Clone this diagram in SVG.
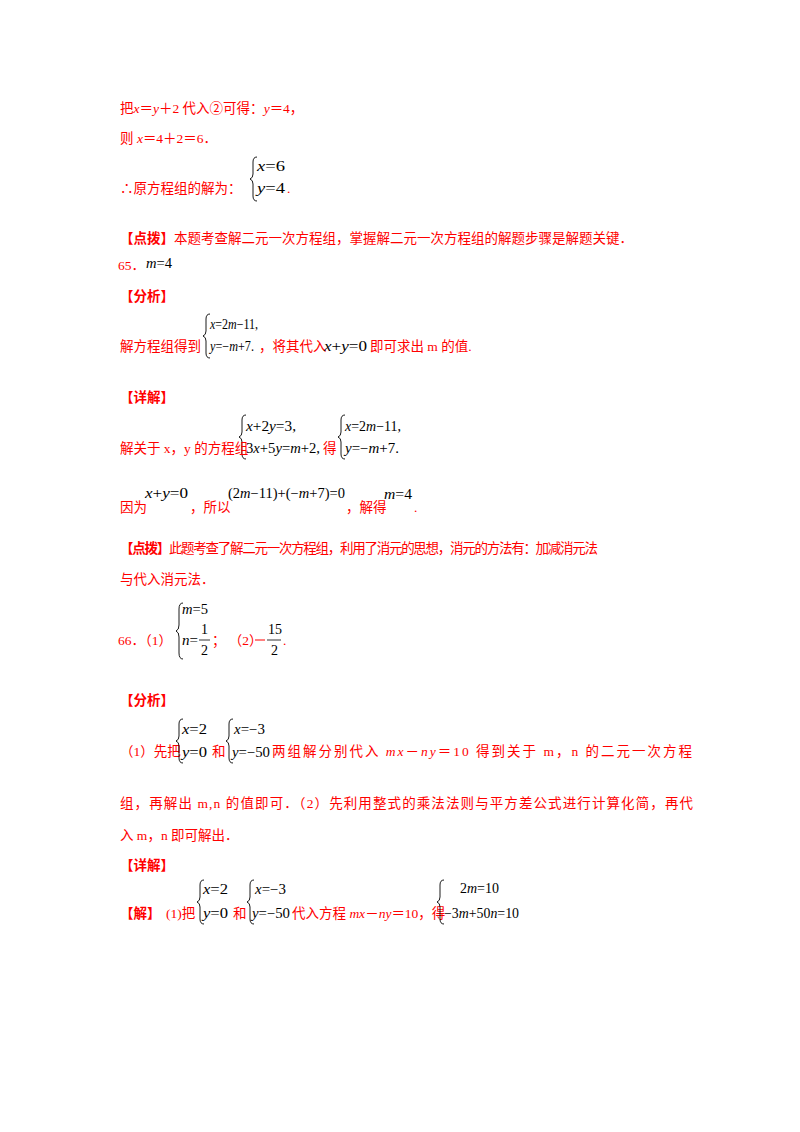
<svg xmlns="http://www.w3.org/2000/svg" width="800" height="1132" viewBox="0 0 800 1132">
<style>
.r{fill:#f00;font-family:"Liberation Serif","Noto Sans CJK SC",serif;font-size:13.5px}
.m{fill:#000;font-family:"Liberation Serif",serif;font-size:14px}
.i{font-style:italic}
.b{fill:none;stroke:#000;stroke-width:0.9}
</style>
<rect width="800" height="1132" fill="#fff"/>
<defs>
<path id="br2" class="b" d="M7,0 Q3,0 3,5 L3,17 Q3,21 0,22 Q3,23 3,27 L3,39 Q3,44 7,44"/>
<path id="br3" class="b" d="M7,0 Q3,0 3,6 L3,22 Q3,27 0,28 Q3,29 3,34 L3,50 Q3,56 7,56"/>
</defs>
<text class="r" x="120" y="113">把<tspan class="i">x</tspan>＝<tspan class="i">y</tspan>＋2 代入②可得：<tspan class="i">y</tspan>＝4，</text>
<text class="r" x="120" y="143">则 <tspan class="i">x</tspan>＝4＋2＝6．</text>
<use href="#br2" x="250" y="157"/>
<text class="m" x="257" y="171" textLength="28" lengthAdjust="spacingAndGlyphs"><tspan class="i">x</tspan>=6</text>
<text class="m" x="257" y="193" textLength="28" lengthAdjust="spacingAndGlyphs"><tspan class="i">y</tspan>=4</text>
<text class="r" x="120" y="193">∴原方程组的解为：</text>
<text class="r" x="287" y="193">.</text>
<text class="r" x="120" y="243" font-weight="bold">【点拨】<tspan font-weight="normal">本题考查解二元一次方程组，掌握解二元一次方程组的解题步骤是解题关键．</tspan></text>
<text class="r" x="118" y="270">65．</text>
<text class="m" x="146" y="268" textLength="26" lengthAdjust="spacingAndGlyphs"><tspan class="i">m</tspan>=4</text>
<text class="r" x="120" y="301" font-weight="bold">【分析】</text>
<use href="#br2" x="203" y="314"/>
<text class="m" x="210" y="329" textLength="48" lengthAdjust="spacingAndGlyphs"><tspan class="i">x</tspan>=2<tspan class="i">m</tspan>−11,</text>
<text class="m" x="210" y="351" textLength="44" lengthAdjust="spacingAndGlyphs"><tspan class="i">y</tspan>=−<tspan class="i">m</tspan>+7.</text>
<text class="r" x="120" y="351">解方程组得到</text>
<text class="r" x="259" y="351">，将其代入</text>
<text class="m" x="324" y="351" textLength="43" lengthAdjust="spacingAndGlyphs"><tspan class="i">x</tspan>+<tspan class="i">y</tspan>=0</text>
<text class="r" x="370" y="351">即可求出 m 的值.</text>
<text class="r" x="120" y="402" font-weight="bold">【详解】</text>
<use href="#br2" x="239" y="415"/>
<text class="m" x="246" y="431" textLength="50" lengthAdjust="spacingAndGlyphs"><tspan class="i">x</tspan>+2<tspan class="i">y</tspan>=3,</text>
<text class="m" x="246" y="453" textLength="74" lengthAdjust="spacingAndGlyphs">3<tspan class="i">x</tspan>+5<tspan class="i">y</tspan>=<tspan class="i">m</tspan>+2,</text>
<text class="r" x="120" y="453">解关于 x，y 的方程组</text>
<text class="r" x="323" y="453">得</text>
<use href="#br2" x="338" y="415"/>
<text class="m" x="345" y="431" textLength="56" lengthAdjust="spacingAndGlyphs"><tspan class="i">x</tspan>=2<tspan class="i">m</tspan>−11,</text>
<text class="m" x="345" y="453" textLength="54" lengthAdjust="spacingAndGlyphs"><tspan class="i">y</tspan>=−<tspan class="i">m</tspan>+7.</text>
<text class="r" x="120" y="512">因为</text>
<text class="m" x="145" y="498" textLength="43" lengthAdjust="spacingAndGlyphs"><tspan class="i">x</tspan>+<tspan class="i">y</tspan>=0</text>
<text class="r" x="190" y="512">，所以</text>
<text class="m" x="228" y="498" textLength="117" lengthAdjust="spacingAndGlyphs">(2<tspan class="i">m</tspan>−11)+(−<tspan class="i">m</tspan>+7)=0</text>
<text class="r" x="346" y="512">，解得</text>
<text class="m" x="384" y="499" textLength="28" lengthAdjust="spacingAndGlyphs"><tspan class="i">m</tspan>=4</text>
<text class="r" x="414" y="512">.</text>
<text class="r" x="120" y="553" font-weight="bold" textLength="478" lengthAdjust="spacing">【点拨】<tspan font-weight="normal">此题考查了解二元一次方程组，利用了消元的思想，消元的方法有：加减消元法</tspan></text>
<text class="r" x="120" y="584">与代入消元法．</text>
<use href="#br3" x="176" y="603"/>
<text class="m" x="182" y="614" textLength="26" lengthAdjust="spacingAndGlyphs"><tspan class="i">m</tspan>=5</text>
<text class="m" x="182" y="645" textLength="16" lengthAdjust="spacingAndGlyphs"><tspan class="i">n</tspan>=</text>
<text class="m" x="201" y="634">1</text>
<line x1="199" y1="640" x2="210" y2="640" stroke="#000" stroke-width="0.8"/>
<text class="m" x="201" y="655">2</text>
<text class="r" x="118" y="645">66．（1）</text>
<text class="r" x="212" y="645">；  （2）</text>
<line x1="255" y1="640" x2="265" y2="640" stroke="#f00" stroke-width="1"/>
<text class="m" x="268" y="634">15</text>
<line x1="267" y1="640" x2="281" y2="640" stroke="#000" stroke-width="0.8"/>
<text class="m" x="271" y="655">2</text>
<text class="r" x="283" y="645">.</text>
<text class="r" x="120" y="705" font-weight="bold">【分析】</text>
<text class="r" x="120" y="756">（1）先把</text>
<use href="#br2" x="176" y="719"/>
<text class="m" x="182" y="734" textLength="25" lengthAdjust="spacingAndGlyphs"><tspan class="i">x</tspan>=2</text>
<text class="m" x="182" y="757" textLength="25" lengthAdjust="spacingAndGlyphs"><tspan class="i">y</tspan>=0</text>
<text class="r" x="212" y="756">和</text>
<use href="#br2" x="226" y="719"/>
<text class="m" x="234" y="734" textLength="31" lengthAdjust="spacingAndGlyphs"><tspan class="i">x</tspan>=−3</text>
<text class="m" x="232" y="757" textLength="38" lengthAdjust="spacingAndGlyphs"><tspan class="i">y</tspan>=−50</text>
<text class="r" x="272" y="756" textLength="420" lengthAdjust="spacing">两组解分别代入 <tspan class="i">mx</tspan>－<tspan class="i">ny</tspan>＝10 得到关于 m，n 的二元一次方程</text>
<text class="r" x="120" y="808" textLength="573" lengthAdjust="spacing">组，再解出 m,n 的值即可．（2）先利用整式的乘法法则与平方差公式进行计算化简，再代</text>
<text class="r" x="120" y="840">入 m，n 即可解出．</text>
<text class="r" x="120" y="870" font-weight="bold">【详解】</text>
<text class="r" x="120" y="918" font-weight="bold">【解】</text>
<text class="r" x="166" y="918">(1)把</text>
<use href="#br2" x="197" y="880"/>
<text class="m" x="203" y="894" textLength="25" lengthAdjust="spacingAndGlyphs"><tspan class="i">x</tspan>=2</text>
<text class="m" x="203" y="918" textLength="25" lengthAdjust="spacingAndGlyphs"><tspan class="i">y</tspan>=0</text>
<text class="r" x="233" y="918">和</text>
<use href="#br2" x="247" y="880"/>
<text class="m" x="255" y="894" textLength="31" lengthAdjust="spacingAndGlyphs"><tspan class="i">x</tspan>=−3</text>
<text class="m" x="252" y="918" textLength="38" lengthAdjust="spacingAndGlyphs"><tspan class="i">y</tspan>=−50</text>
<text class="r" x="292" y="918">代入方程 <tspan class="i">mx</tspan>－<tspan class="i">ny</tspan>＝10，得</text>
<use href="#br2" x="437" y="880"/>
<text class="m" x="460" y="893" textLength="39" lengthAdjust="spacingAndGlyphs">2<tspan class="i">m</tspan>=10</text>
<text class="m" x="444" y="918" textLength="75" lengthAdjust="spacingAndGlyphs">−3<tspan class="i">m</tspan>+50<tspan class="i">n</tspan>=10</text>
</svg>
